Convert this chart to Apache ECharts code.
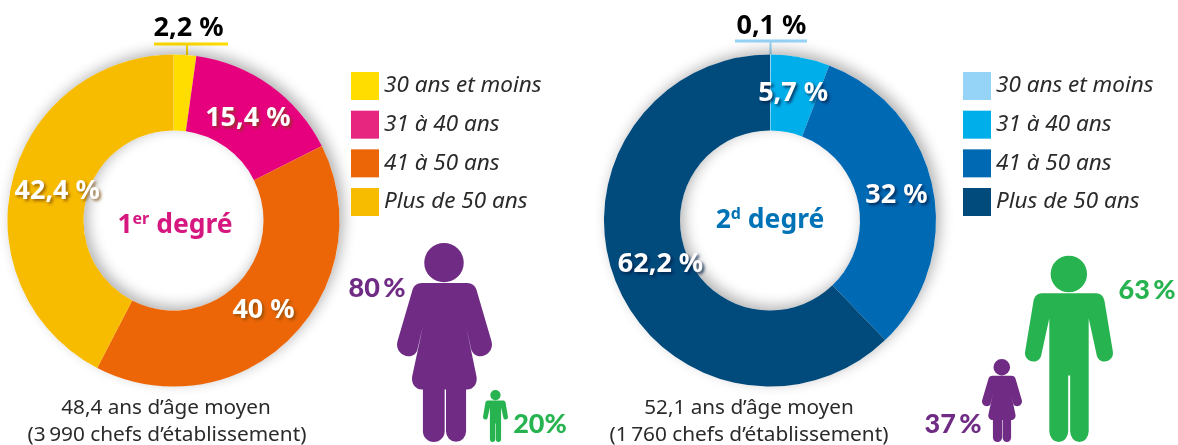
<!DOCTYPE html>
<html><head><meta charset="utf-8">
<style>html,body{margin:0;padding:0;background:#fff}#c{width:1178px;height:445px}</style>
<script src="https://cdn.jsdelivr.net/npm/echarts@6/dist/echarts.min.js"></script>
</head><body><div id="c"></div>
<script>
var ageGroups = ['30 ans et moins','31 à 40 ans','41 à 50 ans','Plus de 50 ans'];
var firstValues = [2.2,15.4,40,42.4];
var firstLabels = ['2,2 %','15,4 %','40 %','42,4 %'];
var firstColors = ['#FFDD00','#E6007E','#EC6608','#F7BB00'];
var firstLegendColors = ['#FFDD00','#E6267F','#EC6608','#F7BB00'];
var firstOffsets = [[6,-62],[-2,4],[-2,-3],[11,2]];
var secondValues = [0.1,5.7,32,62.2];
var secondLabels = ['0,1 %','5,7 %','32 %','62,2 %'];
var secondColors = ['#96D4F7','#00AEEA','#0069B4','#004A7C'];
var secondOffsets = [[1,-63],[-1,2],[-2,1],[12,-5]];
var genderShares = [80,20,63,37];
var font='"Noto Sans", sans-serif';

function pie(cx,vals,labs,cols,offs,shadowColor){
  return {type:'pie',center:[cx,220.5],radius:[90,166],startAngle:90,clockwise:true,silent:true,z:3,
    label:{show:true,position:'inside',fontFamily:font,fontWeight:'bold',fontSize:27,color:'#fff',
      textShadowColor:shadowColor,textShadowBlur:3,textShadowOffsetX:2,textShadowOffsetY:2},
    labelLine:{show:false},
    data:vals.map(function(v,i){
      var d={name:ageGroups[i],value:v,itemStyle:{color:cols[i]},
        label:{formatter:labs[i],offset:offs[i]}};
      if(i===0){d.label.color='#000';d.label.textShadowBlur=0;d.label.textShadowOffsetX=0;d.label.textShadowOffsetY=0;}
      return d;
    })};
}
function under(cx){
  return {type:'pie',center:[cx,220.5],radius:[90,166],silent:true,z:2,label:{show:false},labelLine:{show:false},
    itemStyle:{color:'#fff',shadowBlur:14,shadowColor:'rgba(0,0,0,0.3)',shadowOffsetX:4,shadowOffsetY:-4},
    data:[{name:'fond',value:1}]};
}
function legend(left,cols){
  return {orient:'vertical',left:left,top:67,itemWidth:28,itemHeight:28,itemGap:10.67,icon:'rect',selectedMode:false,
    textStyle:{fontFamily:font,fontStyle:'italic',fontSize:22.5,color:'#2b2a29',padding:[6,0,0,0]},
    data:ageGroups.map(function(n,i){return {name:n,icon:'rect',itemStyle:{color:cols[i],shadowBlur:0,shadowOffsetX:0,shadowOffsetY:0}};})};
}
var WOMAN='M141 0A59 59 0 1 1 140.990 0ZM75 120H210C225 120 235 130 238 140L283 295C290 320 270 340 250 340C235 340 225 330 222 318L207 250L238 400C242 420 230 440 210 440H207V565A30 32 0 0 1 147 565V440H143V565A32 32 0 0 1 78 565V440H75C55 440 42 420 46 400L78 250L62 318C60 330 50 340 35 340C15 340 -5 320 2 295L47 140C50 130 60 120 75 120Z';
var MAN='M132 0A55 55 0 1 1 131.990 0ZM50 113H215C230 113 238 125 240 138L265 288C268 305 255 318 240 318C225 318 217 308 215 293L192 188V528A28 32 0 0 1 136 528V360H130V528A28.500 32 0 0 1 73 528V188L50 293C48 308 40 318 25 318C10 318 -3 305 0 288L25 138C27 125 35 113 50 113Z';
var personPaths=[WOMAN,MAN,MAN,WOMAN];
var personColors=['#702C85','#27B34F','#27B34F','#702C85'];
var personBoxes=[[397,243,95,199],[483,390,25,52],[1025,255.700,88,186.300],[982,359,40,83]];
function people(){
  return {type:'custom',coordinateSystem:'none',silent:true,z:5,data:genderShares,
    renderItem:function(params){
      var i=params.dataIndex,b=personBoxes[i];
      return {type:'path',shape:{pathData:personPaths[i],layout:'cover',x:b[0],y:b[1],width:b[2],height:b[3]},style:{fill:personColors[i]}};
    }};
}
function text(t,x,y,size,color,opts){
  var s={text:t,x:x,y:y,fill:color,font:(opts&&opts.weight||'normal')+' '+size+'px '+(opts&&opts.family||font),textAlign:'center',textVerticalAlign:'middle'};
  return {type:'text',silent:true,z:6,style:s};
}
function line(x1,y1,x2,y2,c,w){return {type:'line',silent:true,z:1,shape:{x1:x1,y1:y1,x2:x2,y2:y2},style:{stroke:c,lineWidth:w}};}
function degree(x,y,main,sup,rest,color){
  return {type:'text',silent:true,z:6,style:{x:x,y:y,text:'{a|'+main+'}{b|'+sup+'}{a| '+rest+'}',textAlign:'center',textVerticalAlign:'middle',
    rich:{a:{fontFamily:font,fontWeight:'bold',fontSize:26.5,fill:color},b:{fontFamily:font,fontWeight:'bold',fontSize:16,fill:color,verticalAlign:'top',padding:[0,0,8,0]}}}};
}
var lato='Lato, sans-serif';
var chart=echarts.init(document.getElementById('c'),null,{renderer:'canvas'});
chart.setOption({animation:false,backgroundColor:'#fff',
  legend:[legend(346,firstLegendColors),legend(958,secondColors)],
  series:[under(173.5),under(770),
    pie(173.5,firstValues,firstLabels,firstColors,firstOffsets,'rgba(120,70,0,0.7)'),
    pie(770,secondValues,secondLabels,secondColors,secondOffsets,'rgba(0,30,70,0.8)'),
    people()],
  graphic:[
    line(154,44,228,44,'#FFDD00',3),line(187,44,187,56,'#FFDD00',2),
    line(735,41,807,41,'#96D4F7',3),line(770.5,41,770.5,55,'#96D4F7',2),
    degree(175,225,'1','er','degré','#D6177F'),
    degree(770,220,'2','d','degré','#0073B7'),
    text('48,4 ans d’âge moyen',166,408,20.700,'#2b2a29'),
    text('(3\u2009990 chefs d’établissement)',167,435,20.800,'#2b2a29'),
    text('52,1 ans d’âge moyen',749,408,20.700,'#2b2a29'),
    text('(1\u2009760 chefs d’établissement)',749,435,20.800,'#2b2a29'),
    text('80\u2009%',377,288,27,'#702C85',{weight:'900',family:lato}),
    text('20%',540,424,27,'#27B34F',{weight:'900',family:lato}),
    text('63\u2009%',1147,290,27,'#27B34F',{weight:'900',family:lato}),
    text('37\u2009%',953,424,27,'#702C85',{weight:'900',family:lato})
  ]});
</script></body></html>
